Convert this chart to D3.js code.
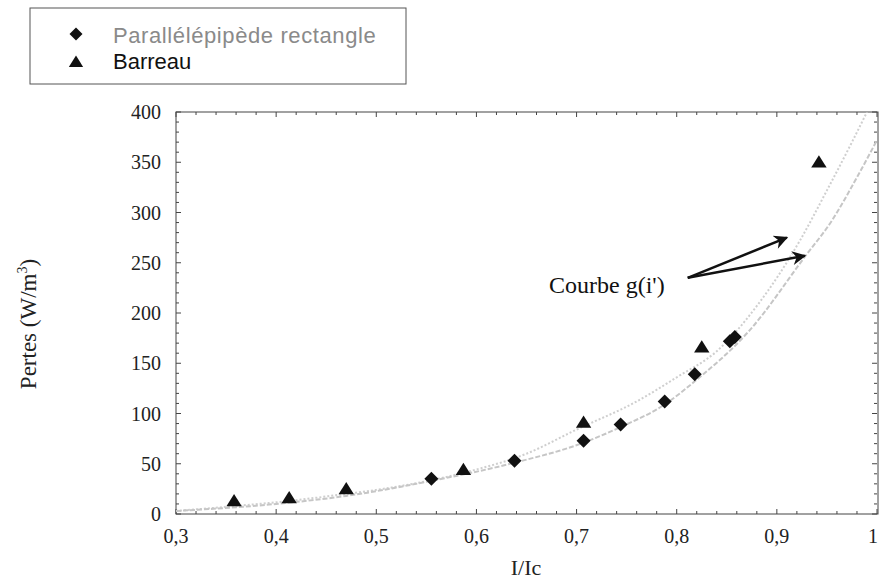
<!DOCTYPE html>
<html>
<head>
<meta charset="utf-8">
<script src="https://cdn.jsdelivr.net/npm/d3@7"></script>
<style>
  html, body { margin: 0; padding: 0; background: #fff; }
  svg { display: block; }
</style>
</head>
<body>
<svg id="chart" width="879" height="582"></svg>
<script>
// ---- Data ----
const seriesNames = ["Parallélépipède rectangle", "Barreau"];

const paraX = [0.555, 0.638, 0.707, 0.744, 0.788, 0.818, 0.853, 0.858];
const paraY = [35, 53, 73, 89, 112, 139, 172, 176];

const barX = [0.358, 0.413, 0.470, 0.587, 0.707, 0.825, 0.942];
const barY = [13, 16, 25, 44, 91, 166, 350];

// fitted curves g(i')
const curveUpX = [0.30, 0.36, 0.413, 0.47, 0.50, 0.587, 0.65, 0.70, 0.76, 0.80, 0.84, 0.88, 0.923, 0.95, 0.976, 0.99];
const curveUpY = [3, 8, 13, 20, 24, 41, 60, 84, 112, 136, 162, 207, 272, 322, 372, 400];

const curveLoX = [0.30, 0.40, 0.47, 0.555, 0.638, 0.707, 0.745, 0.788, 0.818, 0.873, 0.928, 0.955, 0.98, 1.0];
const curveLoY = [3, 10, 18, 33, 51, 71, 87, 109, 132, 183, 256, 292, 335, 372];

const xTicks = [0.3, 0.4, 0.5, 0.6, 0.7, 0.8, 0.9, 1.0];
const yTicks = [0, 50, 100, 150, 200, 250, 300, 350, 400];

const xLabel = "I/Ic";
const yLabel = "Pertes (W/m";
const annotation = "Courbe g(i')";

// ---- Layout ----
const svg = d3.select("#chart");
const L = 176, R = 877, T = 112, B = 514;
const x = d3.scaleLinear().domain([0.3, 1.0]).range([L, R]);
const y = d3.scaleLinear().domain([0, 400]).range([B, T]);
const fmt = v => (v === 1 ? "1" : d3.format(".1f")(v).replace(".", ","));

const axisColor = "#444";
const serif = "'Liberation Serif', 'Times New Roman', serif";
const sans = "'Liberation Sans', Arial, sans-serif";

// frame
svg.append("rect").attr("x", L).attr("y", T).attr("width", R - L + 1).attr("height", B - T)
  .attr("fill", "none").attr("stroke", axisColor).attr("stroke-width", 1);

// ticks (inside) on all four sides
const xMinor = d3.range(0.3, 1.0001, 0.02);
const yMinor = d3.range(0, 400.001, 10);
const g = svg.append("g").attr("stroke", axisColor).attr("stroke-width", 1);
xMinor.forEach(v => {
  const major = xTicks.some(t => Math.abs(t - v) < 1e-6);
  const len = major ? 5 : 3;
  g.append("line").attr("x1", x(v)).attr("x2", x(v)).attr("y1", B).attr("y2", B - len);
  g.append("line").attr("x1", x(v)).attr("x2", x(v)).attr("y1", T).attr("y2", T + len);
});
yMinor.forEach(v => {
  const major = yTicks.some(t => Math.abs(t - v) < 1e-6);
  const len = major ? 5 : 3;
  g.append("line").attr("y1", y(v)).attr("y2", y(v)).attr("x1", L).attr("x2", L + len);
  g.append("line").attr("y1", y(v)).attr("y2", y(v)).attr("x1", R).attr("x2", R - len);
});

// tick labels
svg.append("g").selectAll("text").data(xTicks).join("text")
  .attr("x", d => (d === 1 ? 878 : x(d))).attr("y", 543)
  .attr("text-anchor", d => (d === 1 ? "end" : "middle"))
  .attr("font-family", serif).attr("font-size", 20).attr("fill", "#222")
  .text(fmt);
svg.append("g").selectAll("text").data(yTicks).join("text")
  .attr("x", 161).attr("y", d => y(d) + 7)
  .attr("text-anchor", "end")
  .attr("font-family", serif).attr("font-size", 20).attr("fill", "#222")
  .text(d => d);

// axis titles
svg.append("text").attr("x", 526).attr("y", 575).attr("text-anchor", "middle")
  .attr("font-family", serif).attr("font-size", 22).attr("fill", "#222").text(xLabel);
const yl = svg.append("text")
  .attr("transform", "translate(36,324) rotate(-90)")
  .attr("text-anchor", "middle")
  .attr("font-family", serif).attr("font-size", 23).attr("fill", "#222");
yl.append("tspan").text(yLabel);
yl.append("tspan").attr("dy", -9).attr("font-size", 14).text("3");
yl.append("tspan").attr("dy", 9).text(")");

// curves
const line = d3.line().x(d => x(d[0])).y(d => y(d[1])).curve(d3.curveMonotoneX);
svg.append("path").datum(d3.zip(curveUpX, curveUpY))
  .attr("d", line).attr("fill", "none").attr("stroke", "#cfcfcf")
  .attr("stroke-width", 2).attr("stroke-dasharray", "2,2");
svg.append("path").datum(d3.zip(curveLoX, curveLoY))
  .attr("d", line).attr("fill", "none").attr("stroke", "#c6c6c6")
  .attr("stroke-width", 2).attr("stroke-dasharray", "5,2");

// markers
const diamondPath = (cx, cy, s) => `M${cx},${cy - s}L${cx + s},${cy}L${cx},${cy + s}L${cx - s},${cy}Z`;
const triPath = (cx, cy, s) => `M${cx},${cy - s}L${cx + s * 1.1},${cy + s * 0.75}L${cx - s * 1.1},${cy + s * 0.75}Z`;

svg.append("g").selectAll("path").data(d3.zip(paraX, paraY)).join("path")
  .attr("d", d => diamondPath(x(d[0]), y(d[1]), 7)).attr("fill", "#111");
svg.append("g").selectAll("path").data(d3.zip(barX, barY)).join("path")
  .attr("d", d => triPath(x(d[0]), y(d[1]), 7)).attr("fill", "#111");

// annotation
svg.append("text").attr("x", 549).attr("y", 293)
  .attr("font-family", serif).attr("font-size", 24).attr("fill", "#111").text(annotation);
const defs = svg.append("defs");
defs.append("marker").attr("id", "ah").attr("viewBox", "0 0 10 10")
  .attr("refX", 9).attr("refY", 5)
  .attr("orient", "auto").attr("markerUnits", "userSpaceOnUse")
  .attr("markerWidth", 22).attr("markerHeight", 14)
  .append("path").attr("d", "M0,0L10,5L0,10L3,5Z").attr("fill", "#111");
const arrowStart = [0.811, 235];
const arrowEnds = [[0.910, 275], [0.928, 257]];
arrowEnds.forEach(e => {
  svg.append("line")
    .attr("x1", x(arrowStart[0])).attr("y1", y(arrowStart[1]))
    .attr("x2", x(e[0])).attr("y2", y(e[1]))
    .attr("stroke", "#111").attr("stroke-width", 2.5).attr("marker-end", "url(#ah)");
});

// legend
svg.append("rect").attr("x", 30).attr("y", 8).attr("width", 376).attr("height", 76)
  .attr("fill", "#fff").attr("stroke", "#555").attr("stroke-width", 1);
svg.append("path").attr("d", diamondPath(76, 34, 6.5)).attr("fill", "#111");
svg.append("path").attr("d", triPath(76, 62, 6.5)).attr("fill", "#111");
svg.append("text").attr("x", 113).attr("y", 43)
  .attr("font-family", sans).attr("font-size", 22).attr("letter-spacing", 0.6).attr("fill", "#8a8a8a").text(seriesNames[0]);
svg.append("text").attr("x", 113).attr("y", 69)
  .attr("font-family", sans).attr("font-size", 22).attr("fill", "#111").text(seriesNames[1]);
</script>
</body>
</html>
